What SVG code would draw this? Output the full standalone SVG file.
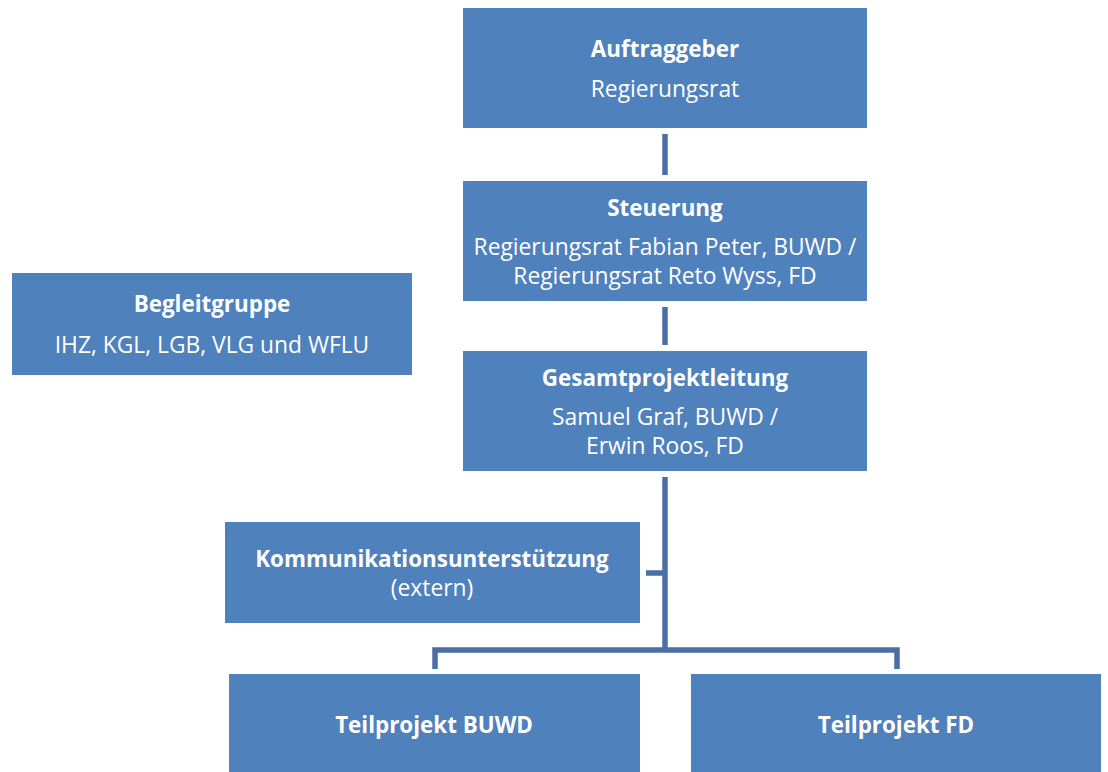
<svg xmlns="http://www.w3.org/2000/svg" width="1108" height="772" viewBox="0 0 1108 772">
<style>
.box{fill:#4F81BD;}
.t{font-family:"Open Sans","Noto Sans",sans-serif;font-size:22.8px;fill:#FFFFFF;text-anchor:middle;}
.b{font-weight:bold;font-size:22.4px;}
.c{stroke:#4A6FA6;stroke-width:5.5;fill:none;}
</style>
<rect width="1108" height="772" fill="#FFFFFF"/>
<g id="connectors">
<line class="c" x1="665" y1="134" x2="665" y2="175"/>
<line class="c" x1="665" y1="307" x2="665" y2="345"/>
<line class="c" x1="665" y1="477" x2="665" y2="650"/>
<line class="c" x1="646" y1="573" x2="665" y2="573"/>
<polyline class="c" points="435,669 435,650 897,650 897,669"/>
</g>
<g id="auftraggeber">
<rect class="box" x="463" y="8" width="404" height="120"/>
<text class="t b" x="665" y="57">Auftraggeber</text>
<text class="t" x="665" y="97">Regierungsrat</text>
</g>
<g id="steuerung">
<rect class="box" x="463" y="181" width="404" height="120"/>
<text class="t b" x="665" y="216">Steuerung</text>
<text class="t" x="665" y="255">Regierungsrat Fabian Peter, BUWD /</text>
<text class="t" x="665" y="284">Regierungsrat Reto Wyss, FD</text>
</g>
<g id="gesamtprojektleitung">
<rect class="box" x="463" y="351" width="404" height="120"/>
<text class="t b" x="665" y="386">Gesamtprojektleitung</text>
<text class="t" x="665" y="425">Samuel Graf, BUWD /</text>
<text class="t" x="665" y="454">Erwin Roos, FD</text>
</g>
<g id="begleitgruppe">
<rect class="box" x="12" y="273" width="400" height="102"/>
<text class="t b" x="212" y="312">Begleitgruppe</text>
<text class="t" x="212" y="353">IHZ, KGL, LGB, VLG und WFLU</text>
</g>
<g id="kommunikation">
<rect class="box" x="225" y="522" width="415" height="101"/>
<text class="t b" x="432" y="567">Kommunikationsunterstützung</text>
<text class="t" x="432" y="596">(extern)</text>
</g>
<g id="teilprojekt-buwd">
<rect class="box" x="229" y="674" width="411" height="98"/>
<text class="t b" x="434" y="733">Teilprojekt BUWD</text>
</g>
<g id="teilprojekt-fd">
<rect class="box" x="691" y="674" width="410" height="98"/>
<text class="t b" x="896" y="733">Teilprojekt FD</text>
</g>
</svg>
